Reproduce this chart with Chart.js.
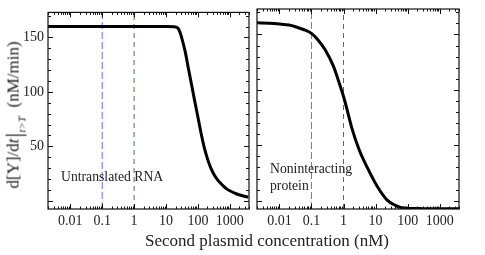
<!DOCTYPE html>
<html>
<head>
<meta charset="UTF-8">
<script src="https://cdn.jsdelivr.net/npm/chart.js"></script>
<style>
    body { margin: 0; padding: 0; background: #fff; }
    #wrap { position: relative; width: 485px; height: 255px; font-family: 'Liberation Serif', 'DejaVu Serif', serif; color: #222; }
    canvas { position: absolute; top: 0; }
    #c1 { left: 0; }
    #c2 { left: 253px; }
    .note { position: absolute; font-size: 13.7px; line-height: 17px; }
    #xtitle { position: absolute; top: 231px; left: 0; width: 534px; text-align: center; font-size: 17px; }
    #ytitle { position: absolute; left: 14px; top: 115px; transform: translate(-50%, -50%) rotate(-90deg); white-space: nowrap; font-size: 17px; }
    #ytitle .bar { font-size: 24px; vertical-align: -3px; margin-left: 1px; }
    #ytitle sub { font-size: 11px; font-style: italic; vertical-align: -7px; }
</style>
</head>
<body>
<div id="wrap">
    <canvas id="c1" width="253" height="255"></canvas>
    <canvas id="c2" width="232" height="255"></canvas>
    <div class="note" style="left:61px; top:168px;">Untranslated RNA</div>
    <div class="note" style="left:270px; top:160px;">Noninteracting<br>protein</div>
    <div id="xtitle">Second plasmid concentration (nM)</div>
    <div id="ytitle">d[Y]/d<i>t</i><span class="bar">|</span><sub>t&gt;T</sub>&nbsp;&nbsp;(nM/min)</div>
</div>
<script>
    // concentrations (nM) and rates
    const rnaX = [0.002, 1, 10, 18, 21, 23, 25, 28, 31.6, 40, 50, 63, 79, 100, 126, 158, 200, 251, 316, 398, 501, 631, 794, 1000, 1585, 2512, 3800];
    const rnaY = [160, 160, 160, 159.8, 159.4, 158.8, 157.5, 154, 149, 137, 122, 107, 92, 77, 62, 49, 38.5, 30.5, 24.5, 20, 16.5, 13.5, 11, 9.3, 6.5, 4.6, 3.4];

    const protX = [0.002, 0.005, 0.01, 0.02, 0.0316, 0.056, 0.1, 0.16, 0.27, 0.49, 0.7, 1, 1.35, 1.8, 3.16, 5.5, 11.2, 23, 40, 60, 100, 300, 1000, 4000];
    const protY = [160.5, 160.2, 159.5, 158.5, 157, 154.5, 151, 145, 136, 121, 108, 94, 80, 66, 45, 30, 13, 0.5, -4, -6, -6.8, -7.2, -7.3, -7.3];

    const markerLines = [0.1, 1];
    const markerColors = ['#6b6bf2', '#4f744f'];
    const markerDash = [[7, 3], [5, 4]];

    const xTicks = [0.01, 0.1, 1, 10, 100, 1000];
    const xTickLabels = ['0.01', '0.1', '1', '10', '100', '1000'];
    const yTicks = [50, 100, 150];
    const yTickLabels = ['50', '100', '150'];

    const xMin = 0.002, xMax = 4000;
    const yMin = -7.5, yMax = 173;

    // frame + inward ticks on all four sides
    const framePlugin = {
        id: 'frame',
        afterDraw(chart) {
            const ctx = chart.ctx, a = chart.chartArea;
            const xs = chart.scales.x, ys = chart.scales.y;
            ctx.save();
            ctx.strokeStyle = '#111';
            ctx.lineWidth = 1.2;
            ctx.strokeRect(a.left, a.top, a.right - a.left, a.bottom - a.top);
            ctx.lineWidth = 1;
            ctx.beginPath();
            for (let d = -3; d <= 3; d++) {
                for (let k = 1; k <= 9; k++) {
                    const v = k * Math.pow(10, d);
                    if (v < xMin || v > xMax) continue;
                    const px = Math.round(xs.getPixelForValue(v)) + 0.5;
                    const len = k === 1 ? 5 : 2.5;
                    ctx.moveTo(px, a.bottom); ctx.lineTo(px, a.bottom - len);
                    ctx.moveTo(px, a.top); ctx.lineTo(px, a.top + len);
                }
            }
            for (let v = 0; v <= 170; v += 10) {
                const py = Math.round(ys.getPixelForValue(v)) + 0.5;
                const len = v % 50 === 0 ? 5 : 3;
                ctx.moveTo(a.left, py); ctx.lineTo(a.left + len, py);
                ctx.moveTo(a.right, py); ctx.lineTo(a.right - len, py);
            }
            ctx.stroke();
            ctx.restore();
        }
    };

    function makeChart(id, xs, ys, showY, padRight) {
        const datasets = [{
            data: xs.map((x, i) => ({ x: x, y: ys[i] })),
            borderColor: '#000',
            borderWidth: 3,
            pointRadius: 0,
            cubicInterpolationMode: 'monotone',
            order: 0
        }];
        markerLines.forEach((m, i) => {
            datasets.push({
                data: [{ x: m, y: yMin }, { x: m, y: yMax }],
                borderColor: markerColors[i],
                borderWidth: 1,
                borderDash: markerDash[i],
                pointRadius: 0,
                order: 1
            });
        });
        return new Chart(document.getElementById(id), {
            type: 'line',
            data: { datasets: datasets },
            options: {
                responsive: false,
                animation: false,
                layout: { padding: { top: 9, right: padRight, left: showY ? 0 : 4, bottom: 0 } },
                plugins: { legend: { display: false }, tooltip: { enabled: false } },
                scales: {
                    x: {
                        type: 'logarithmic',
                        min: xMin, max: xMax,
                        afterBuildTicks: s => { s.ticks = xTicks.map(v => ({ value: v })); },
                        afterFit: s => { s.height = 46; },
                        grid: { display: false, drawTicks: false },
                        border: { display: false },
                        ticks: {
                            padding: 4,
                            color: '#222',
                            font: { family: 'Liberation Serif', size: 14 },
                            autoSkip: false, maxRotation: 0,
                            callback: (v, i) => xTickLabels[i]
                        }
                    },
                    y: {
                        display: showY,
                        min: yMin, max: yMax,
                        afterBuildTicks: s => { s.ticks = yTicks.map(v => ({ value: v })); },
                        afterFit: s => { s.width = showY ? 48 : 0; },
                        grid: { display: false, drawTicks: false },
                        border: { display: false },
                        ticks: {
                            padding: 4,
                            color: '#222',
                            font: { family: 'Liberation Serif', size: 14 },
                            callback: (v, i) => yTickLabels[i]
                        }
                    }
                }
            },
            plugins: [framePlugin]
        });
    }

    makeChart('c1', rnaX, rnaY, true, 4);
    makeChart('c2', protX, protY, false, 26);
</script>
</body>
</html>
